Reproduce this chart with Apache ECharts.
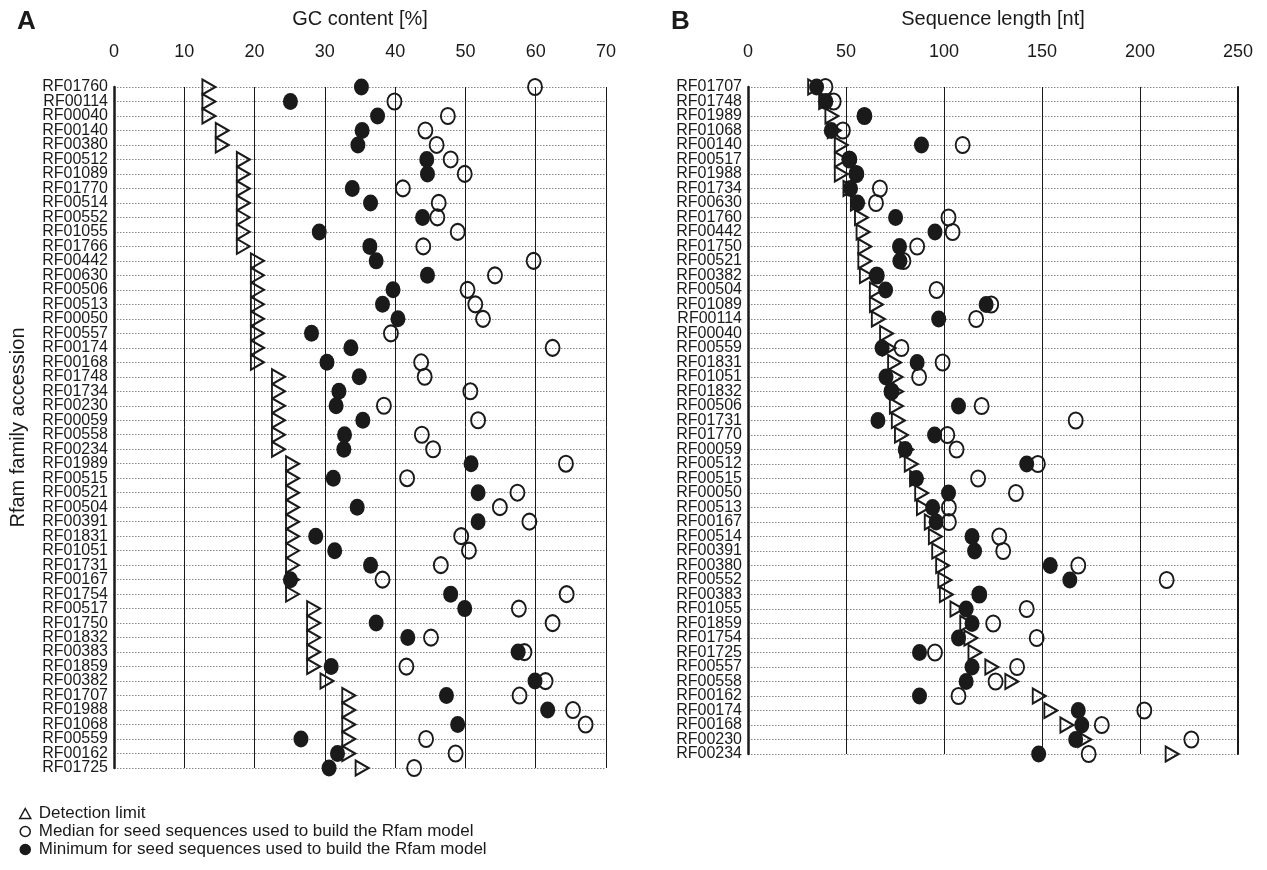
<!DOCTYPE html>
<html>
<head>
<meta charset="utf-8">
<script src="https://cdn.jsdelivr.net/npm/echarts@6/dist/echarts.min.js"></script>
<style>html,body{margin:0;padding:0;background:#fff;}#c{width:1267px;height:870px;}</style>
</head>
<body>
<div id="c"></div>
<script>
// ---- Panel A: GC content [%] ----
var catsA = ['RF01760','RF00114','RF00040','RF00140','RF00380','RF00512','RF01089','RF01770','RF00514','RF00552','RF01055','RF01766','RF00442','RF00630','RF00506','RF00513','RF00050','RF00557','RF00174','RF00168','RF01748','RF01734','RF00230','RF00059','RF00558','RF00234','RF01989','RF00515','RF00521','RF00504','RF00391','RF01831','RF01051','RF01731','RF00167','RF01754','RF00517','RF01750','RF01832','RF00383','RF01859','RF00382','RF01707','RF01988','RF01068','RF00559','RF00162','RF01725'];
var detA = [13.5,13.5,13.5,15.4,15.4,18.4,18.4,18.4,18.4,18.4,18.4,18.4,20.4,20.4,20.4,20.4,20.4,20.4,20.4,20.4,23.4,23.4,23.4,23.4,23.4,23.4,25.4,25.4,25.4,25.4,25.4,25.4,25.4,25.4,25.4,25.4,28.4,28.4,28.4,28.4,28.4,30.3,33.4,33.4,33.4,33.4,33.4,35.3];
var medA = [59.9,39.9,47.5,44.3,45.9,47.9,49.9,41.1,46.2,46.0,48.9,44.0,59.7,54.2,50.3,51.4,52.5,39.4,62.4,43.7,44.2,50.7,38.4,51.8,43.8,45.4,64.3,41.7,57.4,54.9,59.1,49.4,50.5,46.5,38.2,64.4,57.6,62.4,45.1,58.4,41.6,61.4,57.7,65.3,67.1,44.4,48.6,42.7];
var minA = [35.2,25.1,37.5,35.3,34.7,44.5,44.6,33.9,36.5,43.9,29.2,36.4,37.3,44.6,39.7,38.2,40.4,28.1,33.7,30.3,34.9,32.0,31.6,35.4,32.8,32.7,50.8,31.2,51.8,34.6,51.8,28.7,31.4,36.5,25.1,47.9,49.9,37.3,41.8,57.5,30.9,59.9,47.3,61.7,48.9,26.6,31.8,30.6];
var ticksA = {min: 0, max: 70, interval: 10};

// ---- Panel B: Sequence length [nt] ----
var catsB = ['RF01707','RF01748','RF01989','RF01068','RF00140','RF00517','RF01988','RF01734','RF00630','RF01760','RF00442','RF01750','RF00521','RF00382','RF00504','RF01089','RF00114','RF00040','RF00559','RF01831','RF01051','RF01832','RF00506','RF01731','RF01770','RF00059','RF00512','RF00515','RF00050','RF00513','RF00167','RF00514','RF00391','RF00380','RF00552','RF00383','RF01055','RF01859','RF01754','RF01725','RF00557','RF00558','RF00162','RF00174','RF00168','RF00230','RF00234'];
var detB = [34.0,39.6,42.8,44.0,47.6,47.6,47.6,52.0,55.8,57.9,58.7,59.6,59.6,60.4,65.5,65.5,66.5,70.7,72.0,74.8,75.5,75.7,75.7,76.7,78.3,81.0,83.3,86.0,88.6,89.5,93.5,95.6,97.3,99.3,100.4,101.2,106.6,111.6,113.7,115.8,124.4,134.6,148.6,154.5,162.7,171.8,216.4];
var medB = [39.5,43.7,59.4,48.4,109.5,51.7,55.3,67.3,65.3,102.3,104.4,86.3,79.3,65.7,96.2,124.1,116.4,null,78.3,99.3,87.3,73.2,119.2,167.2,101.7,106.4,147.9,117.4,136.7,102.5,102.5,128.2,130.2,168.5,213.6,118.0,142.2,125.1,147.3,95.4,137.3,126.3,107.4,202.2,180.5,226.2,173.8];
var minB = [35.0,39.7,59.4,42.5,88.5,51.7,55.3,52.3,55.9,75.3,95.4,77.3,77.5,65.7,70.2,121.5,97.3,null,68.4,86.3,70.4,73.2,107.4,66.3,95.2,80.2,142.2,85.9,102.3,94.2,96.0,114.3,115.6,154.2,164.2,118.0,111.3,114.3,107.4,87.5,114.3,111.3,87.5,168.5,170.3,167.2,148.3];
var ticksB = {min: 0, max: 250, interval: 50};

var names = ['Detection limit', 'Median for seed sequences used to build the Rfam model', 'Minimum for seed sequences used to build the Rfam model'];

var FONT = '"Liberation Sans", Arial, Helvetica, sans-serif';
var INK = '#1a1a1a';

function pairs(vals, cats) {
  var out = [];
  for (var i = 0; i < vals.length; i++) {
    if (vals[i] !== null) out.push([vals[i], cats[i]]);
  }
  return out;
}

function xAx(grid, name, t) {
  return {
    type: 'value', gridIndex: grid, position: 'top',
    min: t.min, max: t.max, interval: t.interval,
    name: name, nameLocation: 'middle', nameGap: 58,
    nameTextStyle: {fontFamily: FONT, fontSize: 20, color: INK},
    axisLine: {show: false}, axisTick: {show: false},
    axisLabel: {fontFamily: FONT, fontSize: 18, color: INK, margin: 26},
    splitLine: {show: true, lineStyle: {color: INK, width: 1, type: 'solid'}}
  };
}
function yAx(grid, cats, showName) {
  return {
    type: 'category', gridIndex: grid, data: cats, inverse: true, boundaryGap: false,
    name: showName ? 'Rfam family accession' : '', nameLocation: 'middle', nameGap: 86, nameRotate: 90,
    nameTextStyle: {fontFamily: FONT, fontSize: 20, color: INK},
    axisLine: {show: true, lineStyle: {color: INK, width: 2.5}},
    axisTick: {show: false},
    axisLabel: {interval: 0, fontFamily: FONT, fontSize: 16, color: INK, margin: 6},
    splitLine: {show: true, interval: 0, lineStyle: {color: '#8a8a8a', width: 1, type: [1.5, 1.5]}}
  };
}

function seriesFor(xi, yi, cats, det, med, mn) {
  return [
    {name: names[0], type: 'scatter', xAxisIndex: xi, yAxisIndex: yi, data: pairs(det, cats),
     symbol: 'triangle', symbolSize: [15, 13], symbolRotate: -90, z: 3,
     itemStyle: {color: 'rgba(255,255,255,0)', borderColor: INK, borderWidth: 2, opacity: 1}},
    {name: names[1], type: 'scatter', xAxisIndex: xi, yAxisIndex: yi, data: pairs(med, cats),
     symbol: 'circle', symbolSize: [14, 16], z: 4,
     itemStyle: {color: 'rgba(255,255,255,0)', borderColor: INK, borderWidth: 2, opacity: 1}},
    {name: names[2], type: 'scatter', xAxisIndex: xi, yAxisIndex: yi, data: pairs(mn, cats),
     symbol: 'circle', symbolSize: [15, 17], z: 5,
     itemStyle: {color: INK, borderColor: INK, borderWidth: 0, opacity: 1}}
  ];
}

var chart = echarts.init(document.getElementById('c'), null, {renderer: 'canvas'});
var rightB = {
  type: 'category', gridIndex: 1, data: catsB, inverse: true, boundaryGap: false, position: 'right',
  axisLine: {show: true, lineStyle: {color: INK, width: 2}}, axisTick: {show: false},
  axisLabel: {show: false}, splitLine: {show: false}
};
chart.setOption({
  animation: false,
  backgroundColor: '#fff',
  textStyle: {fontFamily: FONT},
  title: [
    {text: 'A', left: 12, top: 4, textStyle: {fontFamily: FONT, fontSize: 26, fontWeight: 'bold', color: INK}},
    {text: 'B', left: 666, top: 4, textStyle: {fontFamily: FONT, fontSize: 26, fontWeight: 'bold', color: INK}}
  ],
  grid: [
    {left: 114, right: 661, top: 87, bottom: 102},
    {left: 748, right: 29, top: 87, bottom: 116}
  ],
  xAxis: [xAx(0, 'GC content [%]', ticksA), xAx(1, 'Sequence length [nt]', ticksB)],
  yAxis: [yAx(0, catsA, true), yAx(1, catsB, false), rightB],
  legend: {
    orient: 'vertical', left: 14, top: 800, itemGap: 1, itemWidth: 11, itemHeight: 10,
    symbolRotate: 0, selectedMode: false,
    itemStyle: {borderWidth: 1.5},
    textStyle: {fontFamily: FONT, fontSize: 17, color: INK, lineHeight: 17, padding: [0, 0, 0, 3]},
    data: names
  },
  series: [].concat(seriesFor(0, 0, catsA, detA, medA, minA), seriesFor(1, 1, catsB, detB, medB, minB))
});
</script>
</body>
</html>
